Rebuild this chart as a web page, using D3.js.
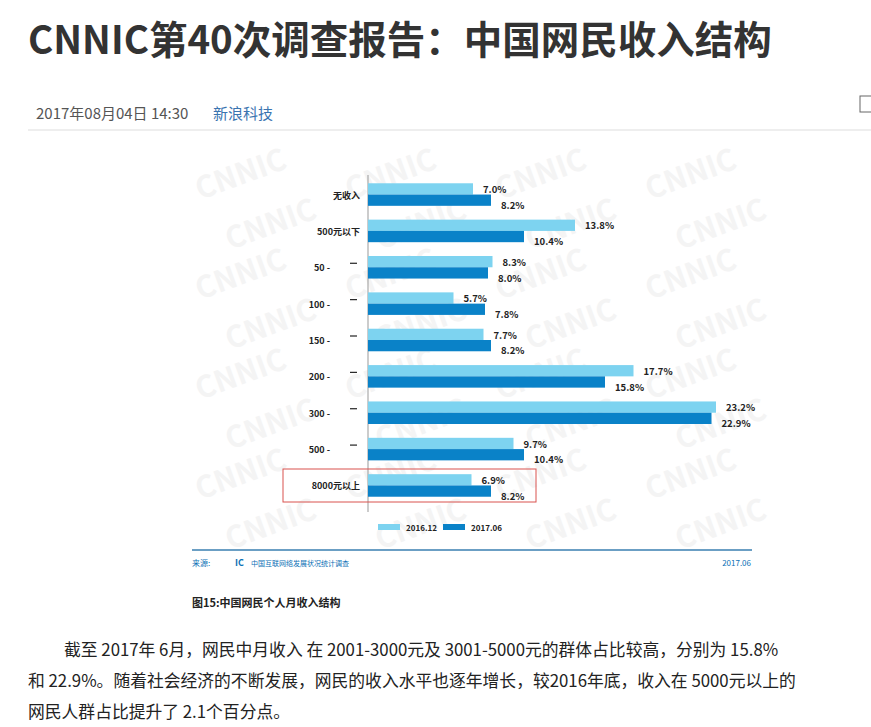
<!DOCTYPE html>
<html><head><meta charset="utf-8">
<script src="https://cdn.jsdelivr.net/npm/d3@7"></script>
<style>body{margin:0;background:#fff;font-family:"Noto Sans CJK SC","Noto Sans",sans-serif}</style>
</head><body><div id="viz"></div>
<script>
var categories = ["无收入", "500元以下", "50 -", "100 -", "150 -", "200 -", "300 -", "500 -", "8000元以上"]
var dashed = [false, false, true, true, true, true, true, true, false]
var v2016 = [7.0, 13.8, 8.3, 5.7, 7.7, 17.7, 23.2, 9.7, 6.9]
var v2017 = [8.2, 10.4, 8.0, 7.8, 8.2, 15.8, 22.9, 10.4, 8.2]
var seriesNames = ["2016.12", "2017.06"]
var colors = ["#7dd3f0", "#0a82c8"]

var svg = d3.select("#viz").append("svg").attr("width", 871).attr("height", 727)

// page header
svg.append("text").attr("x", 28).attr("y", 54).attr("font-size", 38.5).attr("font-weight", "bold")
   .attr("fill", "#333").text("CNNIC第40次调查报告：中国网民收入结构")
svg.append("text").attr("x", 36).attr("y", 119).attr("font-size", 15).attr("fill", "#555").text("2017年08月04日 14:30")
svg.append("text").attr("x", 213).attr("y", 119).attr("font-size", 15).attr("fill", "#3a74b0").text("新浪科技")
svg.append("line").attr("x1", 28).attr("x2", 871).attr("y1", 130).attr("y2", 130).attr("stroke", "#ddd")
svg.append("rect").attr("x", 860).attr("y", 96).attr("width", 14).attr("height", 16).attr("fill", "none").attr("stroke", "#666")

// watermark
var wm = svg.append("g").attr("fill", "#f4f4f4").attr("font-size", 30).attr("font-weight", "bold")
for (var r = 0; r < 8; r++) {
  for (var c = 0; c < 4; c++) {
    wm.append("text").attr("transform", "translate(" + (200 + c * 150 + (r % 2) * 30) + "," + (200 + r * 50) + ") rotate(-20)").text("CNNIC")
  }
}

var x = d3.scaleLinear().domain([0, 24]).range([368, 728])
var y = d3.scaleBand().domain(categories).range([176, 504]).paddingInner(0.38).paddingOuter(0.2)
var bh = y.bandwidth() / 2

svg.append("line").attr("x1", 368).attr("x2", 368).attr("y1", 175).attr("y2", 512).attr("stroke", "#999")

var g = svg.append("g")
g.selectAll(".b1").data(categories).enter().append("rect")
  .attr("x", x(0)).attr("y", function(d) { return y(d) })
  .attr("width", function(d, i) { return x(v2016[i]) - x(0) }).attr("height", bh).attr("fill", colors[0])
g.selectAll(".b2").data(categories).enter().append("rect")
  .attr("x", x(0)).attr("y", function(d) { return y(d) + bh })
  .attr("width", function(d, i) { return x(v2017[i]) - x(0) }).attr("height", bh).attr("fill", colors[1])

var lab = svg.append("g").attr("font-size", 9.5).attr("font-weight", "bold").attr("fill", "#222")
lab.selectAll(".l1").data(categories).enter().append("text")
  .attr("x", function(d, i) { return x(v2016[i]) + 10 }).attr("y", function(d) { return y(d) + bh - 1.5 })
  .text(function(d, i) { return v2016[i].toFixed(1) + "%" })
lab.selectAll(".l2").data(categories).enter().append("text")
  .attr("x", function(d, i) { return x(v2017[i]) + 10 }).attr("y", function(d) { return y(d) + 2 * bh + 3 })
  .text(function(d, i) { return v2017[i].toFixed(1) + "%" })

var cat = svg.append("g").attr("font-size", 9).attr("font-weight", "bold").attr("fill", "#222")
cat.selectAll("text").data(categories).enter().append("text")
  .attr("x", function(d, i) { return dashed[i] ? 330 : 360 })
  .attr("y", function(d) { return y(d) + bh + 4 })
  .attr("text-anchor", "end").text(function(d) { return d })
cat.selectAll("line").data(categories.filter(function(d, i) { return dashed[i] })).enter().append("line")
  .attr("x1", 350).attr("x2", 357).attr("y1", function(d) { return y(d) + bh - 4 }).attr("y2", function(d) { return y(d) + bh - 4 })
  .attr("stroke", "#222").attr("stroke-width", 1.2)

svg.append("rect").attr("x", 283).attr("y", 469).attr("width", 253).attr("height", 33)
  .attr("fill", "none").attr("stroke", "#d9534f")

// legend
seriesNames.forEach(function(s, i) {
  svg.append("rect").attr("x", 378 + i * 65).attr("y", 524).attr("width", 22).attr("height", 6).attr("fill", colors[i])
  svg.append("text").attr("x", 406 + i * 65).attr("y", 531).attr("font-size", 8).attr("font-weight", "bold").attr("fill", "#222").text(s)
})

svg.append("line").attr("x1", 192).attr("x2", 752).attr("y1", 550).attr("y2", 550).attr("stroke", "#3a7fb0").attr("stroke-width", 1.5)
svg.append("text").attr("x", 192).attr("y", 566).attr("font-size", 8).attr("fill", "#0a6fb5").text("来源:")
svg.append("text").attr("x", 235).attr("y", 566).attr("font-size", 9).attr("font-weight", "bold").attr("fill", "#0a6fb5").text("IC")
svg.append("text").attr("x", 251).attr("y", 566).attr("font-size", 7).attr("fill", "#0a6fb5").text("中国互联网络发展状况统计调查")
svg.append("text").attr("x", 751).attr("y", 566).attr("font-size", 8).attr("text-anchor", "end").attr("fill", "#0a6fb5").text("2017.06")
svg.append("text").attr("x", 192).attr("y", 607).attr("font-size", 11).attr("font-weight", "bold").attr("fill", "#222").text("图15:中国网民个人月收入结构")

var para = ["截至 2017年 6月，网民中月收入 在 2001-3000元及 3001-5000元的群体占比较高，分别为 15.8%",
            "和 22.9%。随着社会经济的不断发展，网民的收入水平也逐年增长，较2016年底，收入在 5000元以上的",
            "网民人群占比提升了 2.1个百分点。"]
para.forEach(function(t, i) {
  svg.append("text").attr("x", i == 0 ? 64 : 28).attr("y", 656 + i * 31).attr("font-size", 16.8).attr("fill", "#222").text(t)
})
</script></body></html>
